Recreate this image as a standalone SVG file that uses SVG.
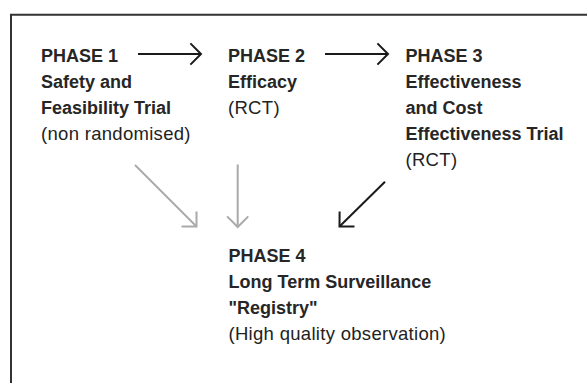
<svg xmlns="http://www.w3.org/2000/svg" width="587" height="383" viewBox="0 0 587 383">
<style>
text{font-family:"Liberation Sans",Arial,sans-serif;font-size:18px;fill:#222}
.b{font-weight:bold;fill:#262626}
.r{font-size:18.5px;letter-spacing:0.3px}
.frame{fill:none;stroke:#333;stroke-width:2}
.k{fill:none;stroke:#1a1a1a;stroke-width:2}
.g{fill:none;stroke:#aaa;stroke-width:2}
</style>
<defs>
<marker id="hk" markerUnits="userSpaceOnUse" viewBox="-13 -13 16 26" markerWidth="16" markerHeight="26" refX="0" refY="0" orient="auto">
<path d="M-10.6,-10.6 L0,0 L-10.6,10.6" fill="none" stroke="#1a1a1a" stroke-width="2"/>
</marker>
<marker id="hg" markerUnits="userSpaceOnUse" viewBox="-13 -13 16 26" markerWidth="16" markerHeight="26" refX="0" refY="0" orient="auto">
<path d="M-10.6,-10.6 L0,0 L-10.6,10.6" fill="none" stroke="#aaa" stroke-width="2"/>
</marker>
</defs>
<path class="frame" d="M11,383 V14.7 H587"/>
<g id="connectors">
<path class="k" d="M138,54 H201" marker-end="url(#hk)"/>
<path class="k" d="M325,54 H388" marker-end="url(#hk)"/>
<path class="g" d="M135,165 L196.5,226.5" marker-end="url(#hg)"/>
<path class="g" d="M237.7,164.5 V227" marker-end="url(#hg)"/>
<path class="k" d="M385,181.7 L339.5,226.5" marker-end="url(#hk)"/>
</g>
<g id="phase1">
<text x="41" y="61.5" class="b">PHASE 1</text>
<text x="41" y="87.5" class="b">Safety and</text>
<text x="41" y="114" class="b">Feasibility Trial</text>
<text x="41" y="139.5" class="r">(non randomised)</text>
</g>
<g id="phase2">
<text x="228" y="61.5" class="b">PHASE 2</text>
<text x="228" y="87.5" class="b">Efficacy</text>
<text x="228" y="114" class="r">(RCT)</text>
</g>
<g id="phase3">
<text x="405.5" y="61.5" class="b">PHASE 3</text>
<text x="405.5" y="87.5" class="b">Effectiveness</text>
<text x="405.5" y="114" class="b">and Cost</text>
<text x="405.5" y="139.5" class="b">Effectiveness Trial</text>
<text x="405.5" y="166" class="r">(RCT)</text>
</g>
<g id="phase4">
<text x="228.5" y="262" class="b">PHASE 4</text>
<text x="228.5" y="288" class="b">Long Term Surveillance</text>
<text x="228.5" y="314" class="b">"Registry"</text>
<text x="228.5" y="340" class="r">(High quality observation)</text>
</g>
</svg>
